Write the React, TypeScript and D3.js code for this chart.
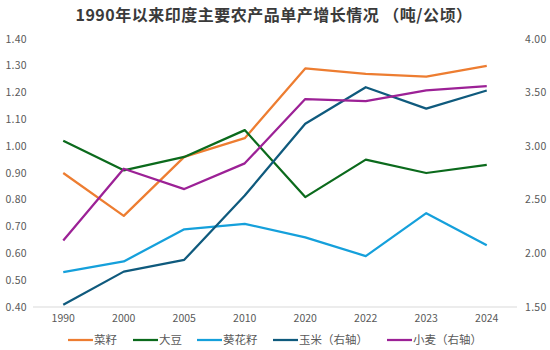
import * as d3 from "d3";
import { useEffect } from "react";

// categories and series values (t/ha)
const years = ["1990", "2000", "2005", "2010", "2020", "2022", "2023", "2024"];
const rapeseed = [0.9, 0.74, 0.96, 1.03, 1.29, 1.27, 1.26, 1.3];
const soybean = [1.02, 0.91, 0.96, 1.06, 0.81, 0.95, 0.9, 0.93];
const sunflower = [0.53, 0.57, 0.69, 0.71, 0.66, 0.59, 0.75, 0.63];
const maize = [1.52, 1.83, 1.94, 2.54, 3.21, 3.55, 3.35, 3.52];
const wheat = [2.12, 2.79, 2.6, 2.84, 3.44, 3.42, 3.52, 3.56];

const leftTicks = [0.4, 0.5, 0.6, 0.7, 0.8, 0.9, 1.0, 1.1, 1.2, 1.3, 1.4];
const rightTicks = [1.5, 2.0, 2.5, 3.0, 3.5, 4.0];

const series = [
  { name: "菜籽", values: rapeseed, color: "#ED7D31", axis: "left" },
  { name: "大豆", values: soybean, color: "#0B6A1C", axis: "left" },
  { name: "葵花籽", values: sunflower, color: "#15A0DB", axis: "left" },
  { name: "玉米（右轴）", values: maize, color: "#0F5A7D", axis: "right" },
  { name: "小麦（右轴）", values: wheat, color: "#9C2196", axis: "right" },
];

const legendX = [68, 133, 197, 273, 387];

export default function App() {
  // drop the default body margin so the svg sits at 0,0
  useEffect(() => {
    document.body.style.margin = "0";
  }, []);

  const width = 550;
  const height = 350;
  const margin = { top: 39, right: 33, bottom: 43, left: 33 };

  const x = d3.scaleBand().domain(years).range([margin.left, width - margin.right]);
  const yL = d3.scaleLinear().domain([0.4, 1.4]).range([height - margin.bottom, margin.top]);
  const yR = d3.scaleLinear().domain([1.5, 4.0]).range([height - margin.bottom, margin.top]);

  const fmt = d3.format(".2f");
  const font = "'Noto Sans CJK SC', 'DejaVu Sans', sans-serif";

  return (
    <svg width={width} height={height} style={{ display: "block", background: "#fff" }}>
      <text x={274} y={21} textAnchor="middle" fontFamily={font} fontWeight="bold" fontSize={16} letterSpacing={0.5} fill="#3a3a3a">
        1990年以来印度主要农产品单产增长情况 （吨/公顷）
      </text>

      {/* baseline */}
      <line x1={margin.left} x2={width - margin.right} y1={yL(0.4)} y2={yL(0.4)} stroke="#d9d9d9" strokeWidth={1} />

      {/* left axis labels */}
      {leftTicks.map((t) => (
        <text key={"l" + t} x={27} y={yL(t)} dy="0.35em" textAnchor="end" fontFamily={font} fontSize={10.5} letterSpacing={0.3} fill="#595959">
          {fmt(t)}
        </text>
      ))}

      {/* right axis labels */}
      {rightTicks.map((t) => (
        <text key={"r" + t} x={525} y={yR(t)} dy="0.35em" textAnchor="start" fontFamily={font} fontSize={10.5} letterSpacing={0.3} fill="#595959">
          {fmt(t)}
        </text>
      ))}

      {/* x axis labels */}
      {years.map((yr) => (
        <text key={yr} x={(x(yr) as number) + x.bandwidth() / 2} y={322} textAnchor="middle" fontFamily={font} fontSize={10.5} fill="#595959">
          {yr}
        </text>
      ))}

      {/* lines */}
      {series.map((s) => {
        const yScale = s.axis === "left" ? yL : yR;
        const line = d3
          .line<number>()
          .x((_, i) => (x(years[i]) as number) + x.bandwidth() / 2)
          .y((d) => yScale(d));
        return <path key={s.name} d={line(s.values) || ""} fill="none" stroke={s.color} strokeWidth={2.25} strokeLinejoin="round" />;
      })}

      {/* legend */}
      {series.map((s, i) => (
        <g key={"lg" + s.name} transform={`translate(${legendX[i]},340)`}>
          <line x1={0} x2={25} y1={0} y2={0} stroke={s.color} strokeWidth={2.25} />
          <text x={26} y={0} dy="0.35em" fontFamily={font} fontSize={11.5} fill="#595959">
            {s.name}
          </text>
        </g>
      ))}
    </svg>
  );
}
